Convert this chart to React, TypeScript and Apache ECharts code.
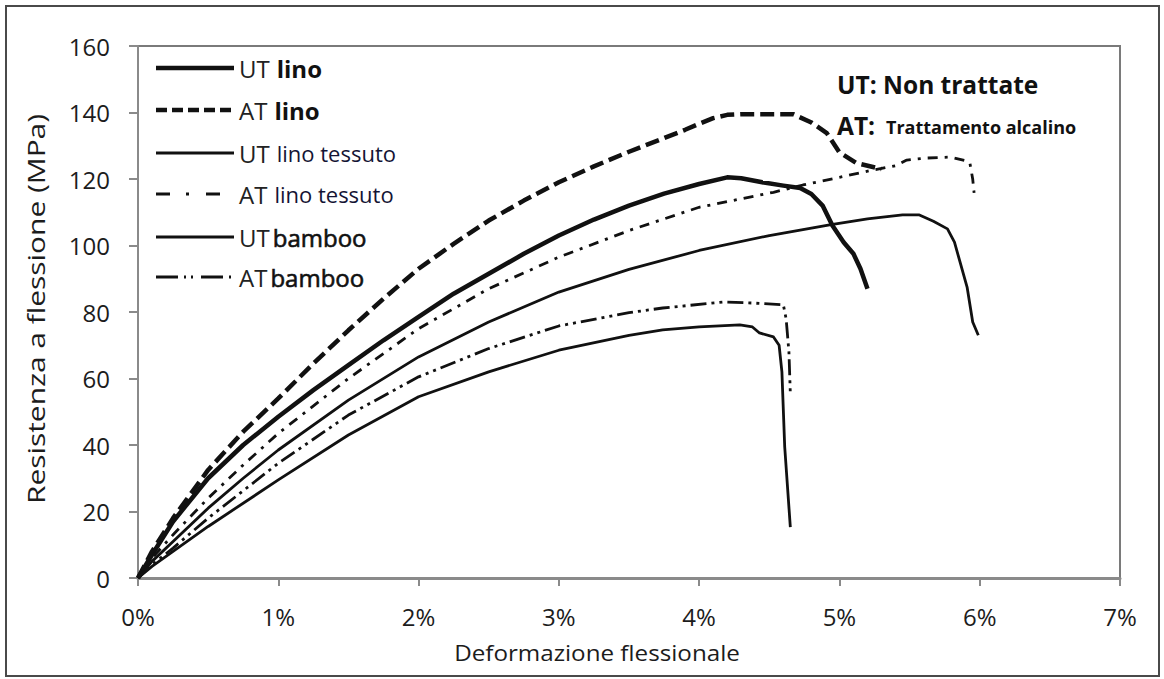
import React, { useEffect, useRef } from "react";
import * as echarts from "echarts";

// Flexural stress (MPa) against flexural strain (%) for each specimen type
const utLino: [number, number][] = [
  [0, 0], [0.1, 7], [0.25, 17], [0.5, 30], [0.75, 40], [1, 48.5], [1.25, 56.5], [1.5, 64],
  [1.75, 71.5], [2, 78.5], [2.25, 85.5], [2.5, 91.5], [2.75, 97.5], [3.0, 103], [3.25, 107.8],
  [3.5, 112], [3.75, 115.6], [4.0, 118.5], [4.2, 120.5], [4.3, 120.2], [4.45, 119], [4.6, 118],
  [4.72, 117.3], [4.8, 115.5], [4.88, 112], [4.95, 106], [5.03, 101], [5.1, 97.5], [5.15, 93],
  [5.2, 87],
];

const atLino: [number, number][] = [
  [0, 0], [0.1, 8], [0.25, 18], [0.5, 32.5], [0.75, 44], [1, 54], [1.25, 64.5], [1.5, 74.5],
  [1.75, 84], [2, 93], [2.25, 100.5], [2.5, 107.5], [2.75, 113.5], [3.0, 119], [3.25, 123.8],
  [3.5, 128.2], [3.75, 132.3], [3.9, 134.8], [4.0, 136.6], [4.1, 138.3], [4.2, 139.3],
  [4.3, 139.5], [4.67, 139.5], [4.8, 137], [4.91, 133.8], [5.0, 128], [5.12, 124.8], [5.3, 123],
];

const utLinoTessuto: [number, number][] = [
  [0, 0], [0.1, 5], [0.25, 11], [0.5, 21], [0.75, 30], [1, 38.5], [1.5, 53.5], [2, 66.5],
  [2.5, 77], [3, 86], [3.5, 92.8], [4, 98.5], [4.5, 103], [4.93, 106.2], [5.2, 108],
  [5.45, 109.2], [5.57, 109.2], [5.67, 107.3], [5.77, 105], [5.82, 101], [5.86, 95],
  [5.91, 87.5], [5.95, 77], [5.99, 73],
];

const atLinoTessuto: [number, number][] = [
  [0, 0], [0.1, 6], [0.25, 13], [0.5, 24], [0.75, 34], [1, 43.5], [1.5, 60], [2, 75],
  [2.5, 87], [3, 96.5], [3.5, 104.5], [4.0, 111.5], [4.53, 116], [4.74, 118.2], [5.0, 120.5],
  [5.24, 122.7], [5.4, 124], [5.48, 125.7], [5.62, 126.3], [5.79, 126.6], [5.9, 125.5],
  [5.93, 124.8], [5.95, 120], [5.96, 115.8],
];

const utBamboo: [number, number][] = [
  [0, 0], [0.1, 3.5], [0.25, 8], [0.5, 15.5], [1, 29.5], [1.5, 43], [2, 54.5], [2.5, 62],
  [3, 68.5], [3.5, 73], [3.74, 74.6], [4.0, 75.5], [4.29, 76.1], [4.38, 75.5], [4.43, 73.7],
  [4.53, 72.5], [4.57, 70], [4.59, 62], [4.61, 39.4], [4.65, 15.3],
];

const atBamboo: [number, number][] = [
  [0, 0], [0.1, 4], [0.25, 9], [0.5, 18], [1, 34.5], [1.5, 49], [2, 60.5], [2.5, 69],
  [3, 75.8], [3.5, 79.8], [3.74, 81.2], [4.17, 83], [4.38, 82.7], [4.6, 82.2], [4.62, 78],
  [4.64, 68], [4.65, 55.6],
];

const xTicks = [0, 1, 2, 3, 4, 5, 6, 7];
const yTicks = [0, 20, 40, 60, 80, 100, 120, 140, 160];

const xTitle = "Deformazione flessionale";
const yTitle = "Resistenza a flessione (MPa)";

const FONT = "'Open Sans', 'Noto Sans', sans-serif";
const INK = "#111";
const TEXT = "#1c1c1c";
const AXIS = "#8a8a8a";

type SeriesDef = {
  name: string;
  data: [number, number][];
  width: number;
  dash: "solid" | number[];
};

const seriesDefs: SeriesDef[] = [
  { name: "UT lino", data: utLino, width: 4.5, dash: "solid" },
  { name: "AT lino", data: atLino, width: 4.5, dash: [14, 6] },
  { name: "UT lino tessuto", data: utLinoTessuto, width: 2.8, dash: "solid" },
  { name: "AT lino tessuto", data: atLinoTessuto, width: 2.8, dash: [10, 7, 3, 7] },
  { name: "UT bamboo", data: utBamboo, width: 2.8, dash: "solid" },
  { name: "AT bamboo", data: atBamboo, width: 2.8, dash: [16, 5, 3, 5, 3, 5] },
];

// Legend rows drawn inside the plot area: line sample + rich text label
const legendRows = [
  { y: 68, width: 4.5, dash: null as number[] | null, end: 234, text: "{r|UT}{b|lino}" },
  { y: 110, width: 4.5, dash: [11, 5], end: 234, text: "{r|AT}{b|lino}" },
  { y: 153, width: 2.8, dash: null, end: 234, text: "{r|UT}{n|lino tessuto}" },
  { y: 194, width: 3, dash: [14, 16, 3, 17], end: 222, text: "{r|AT}{n|lino tessuto}" },
  { y: 237, width: 2.8, dash: null, end: 234, text: "{t|UT}{m|bamboo}" },
  { y: 277, width: 3, dash: [22, 6, 2, 5, 2, 8], end: 234, text: "{t|AT}{m|bamboo}" },
];

// zrender text style names (the graphic component passes these straight through)
const richStyles = {
  r: { fontFamily: FONT, fontSize: 24, fill: "#222", padding: [0, 7, 0, 0] },
  t: { fontFamily: FONT, fontSize: 24, fill: "#222", padding: [0, 3, 0, 0] },
  b: { fontFamily: FONT, fontSize: 24, fill: INK, fontWeight: "bold" },
  n: { fontFamily: FONT, fontSize: 22, fill: "#141434" },
  m: { fontFamily: FONT, fontSize: 24, fill: INK, stroke: INK, lineWidth: 0.6 },
};

export default function App() {
  const ref = useRef<HTMLDivElement>(null);

  useEffect(() => {
    document.body.style.margin = "0";
    if (!ref.current) return;
    const chart = echarts.init(ref.current, null, { renderer: "svg" });

    const graphics: any[] = [
      {
        type: "rect",
        shape: { x: 6, y: 6, width: 1153, height: 670 },
        style: { fill: "none", stroke: "#4a4a4a", lineWidth: 2 },
        silent: true,
      },
      {
        type: "text",
        x: 597,
        y: 652,
        scaleX: 1.1,
        style: {
          text: xTitle,
          fontFamily: FONT,
          fontSize: 22,
          fill: TEXT,
          align: "center",
          verticalAlign: "middle",
        },
      },
      {
        type: "text",
        x: 36,
        y: 309,
        rotation: Math.PI / 2,
        scaleX: 1.3,
        style: {
          text: yTitle,
          fontFamily: FONT,
          fontSize: 23,
          fill: TEXT,
          align: "center",
          verticalAlign: "middle",
        },
      },
    ];
    legendRows.forEach((row) => {
      graphics.push({
        type: "line",
        shape: { x1: 156, y1: row.y, x2: row.end, y2: row.y },
        style: {
          stroke: INK,
          lineWidth: row.width,
          lineDash: row.dash ?? undefined,
        },
        z: 10,
      });
      graphics.push({
        type: "text",
        x: 239,
        y: row.y,
        style: {
          text: row.text,
          rich: richStyles,
          verticalAlign: "middle",
          fill: INK,
        },
        z: 10,
      });
    });
    graphics.push({
      type: "text",
      x: 837,
      y: 97,
      style: {
        text: "UT: Non trattate",
        fontFamily: FONT,
        fontSize: 24.5,
        fontWeight: "bold",
        fill: INK,
        verticalAlign: "bottom",
      },
      z: 10,
    });
    graphics.push({
      type: "text",
      x: 837,
      y: 138,
      style: {
        text: "AT:",
        fontFamily: FONT,
        fontSize: 24.5,
        fontWeight: "bold",
        fill: INK,
        verticalAlign: "bottom",
      },
      z: 10,
    });
    graphics.push({
      type: "text",
      x: 886,
      y: 136,
      style: {
        text: "Trattamento alcalino",
        fontFamily: FONT,
        fontSize: 18,
        fontWeight: "bold",
        fill: INK,
        verticalAlign: "bottom",
      },
      z: 10,
    });

    chart.setOption({
      animation: false,
      backgroundColor: "#fff",
      grid: {
        left: 138,
        right: 44,
        top: 46,
        bottom: 101,
        show: true,
        borderColor: "#7a7a7a",
        borderWidth: 2,
        backgroundColor: "transparent",
      },
      xAxis: {
        type: "value",
        min: xTicks[0],
        max: xTicks[xTicks.length - 1],
        interval: 1,
        axisLine: { show: true, lineStyle: { color: AXIS, width: 3 } },
        axisTick: { show: true, length: 8, lineStyle: { color: AXIS, width: 2 } },
        axisLabel: {
          margin: 26,
          fontFamily: FONT,
          fontSize: 24,
          color: TEXT,
          formatter: (v: number) => `${v}%`,
        },
        splitLine: { show: false },
      },
      yAxis: {
        type: "value",
        min: yTicks[0],
        max: yTicks[yTicks.length - 1],
        interval: 20,
        axisLine: { show: true, lineStyle: { color: AXIS, width: 2 } },
        axisTick: { show: true, length: 9, lineStyle: { color: AXIS, width: 2 } },
        axisLabel: { margin: 28, fontFamily: FONT, fontSize: 24, color: TEXT },
        splitLine: { show: false },
      },
      series: seriesDefs.map((s) => ({
        name: s.name,
        type: "line",
        data: s.data,
        showSymbol: false,
        symbol: "none",
        smooth: false,
        lineStyle: { color: INK, width: s.width, type: s.dash, cap: "butt", join: "round" },
        silent: true,
        z: 3,
      })),
      graphic: graphics,
    });

    return () => chart.dispose();
  }, []);

  return <div ref={ref} style={{ width: 1164, height: 679 }} />;
}
